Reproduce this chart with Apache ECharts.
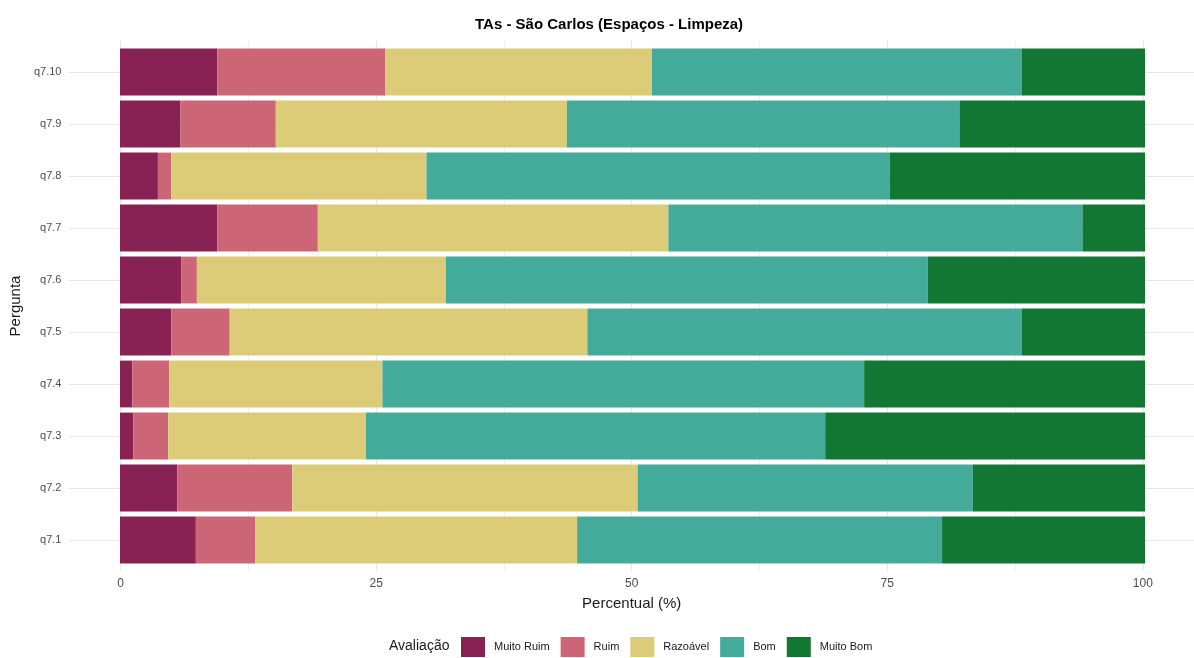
<!DOCTYPE html>
<html>
<head>
<meta charset="utf-8">
<script src="https://cdn.jsdelivr.net/npm/echarts@6/dist/echarts.min.js"></script>
<style>
html,body{margin:0;padding:0;background:#fff;}
#chart{width:1194px;height:658px;}
</style>
</head>
<body>
<div id="chart"></div>
<script>
const categories = ['q7.1','q7.2','q7.3','q7.4','q7.5','q7.6','q7.7','q7.8','q7.9','q7.10'];
const seriesNames = ['Muito Ruim','Ruim','Razoável','Bom','Muito Bom'];
const muitoRuim = [7.4, 5.6, 1.3, 1.2, 5.0, 6.0, 9.5, 3.7, 5.9, 9.5];
const ruim      = [5.8, 11.2, 3.4, 3.6, 5.7, 1.5, 9.8, 1.3, 9.3, 16.4];
const razoavel  = [31.4, 33.7, 19.3, 20.8, 34.9, 24.3, 34.2, 24.9, 28.4, 26.0];
const bom       = [35.6, 32.7, 44.8, 47.0, 42.4, 47.0, 40.4, 45.2, 38.3, 36.1];
const muitoBom  = [19.8, 16.8, 31.2, 27.4, 12.0, 21.2, 6.1, 24.9, 18.1, 12.0];
const xMajorTicks = [0, 25, 50, 75, 100];
const xMinorTicks = [12.5, 37.5, 62.5, 87.5];
const yTickIndex = [0,1,2,3,4,5,6,7,8,9];

const colors = ['#882255','#CC6677','#DDCC77','#44AA99','#117733'];
const values = [muitoRuim, ruim, razoavel, bom, muitoBom];
const FONT = '"Liberation Sans", Arial, sans-serif';

const chart = echarts.init(document.getElementById('chart'), null, {renderer:'canvas'});

const series = seriesNames.map((name, i) => ({
  name: name,
  type: 'bar',
  stack: 'total',
  xAxisIndex: 0,
  yAxisIndex: 0,
  barCategoryGap: '10%',
  itemStyle: {color: colors[i]},
  emphasis: {disabled: true},
  data: values[i]
}));

const option = {
  backgroundColor: '#ffffff',
  animation: false,
  textStyle: {fontFamily: FONT},
  title: {
    text: 'TAs - São Carlos (Espaços - Limpeza)',
    left: 475, top: 17, padding: 0,
    textStyle: {fontFamily: FONT, fontSize: 15, fontWeight: 'bold', color: '#000'}
  },
  legend: {
    data: seriesNames,
    left: 461, top: 637, padding: 0,
    itemWidth: 24, itemHeight: 20, itemGap: 11,
    icon: 'rect',
    textStyle: {fontFamily: FONT, fontSize: 11, color: '#1a1a1a', padding: [0,0,0,4]}
  },
  graphic: [{
    type: 'text', left: 389, top: 639,
    style: {text: 'Avaliação', fontFamily: FONT, fontSize: 14, fill: '#1a1a1a'}
  }],
  grid: [
    {left: 120, right: 49, top: 46, bottom: 92},
    {left: 69, right: -2, top: 40.8, bottom: 86.8}
  ],
  xAxis: [
    {gridIndex: 0, type: 'value', min: 0, max: 100, show: false},
    {gridIndex: 1, type: 'value', min: -5, max: 105,
      axisLine: {show: false}, axisTick: {show: false, customValues: xMajorTicks},
      axisLabel: {customValues: xMajorTicks, margin: 6, fontFamily: FONT, fontSize: 12, color: '#4d4d4d'},
      splitLine: {show: true, lineStyle: {color: '#e6e6e6', width: 1}},
      name: 'Percentual (%)', nameLocation: 'middle', nameGap: 25,
      nameTextStyle: {fontFamily: FONT, fontSize: 15, color: '#1a1a1a'}
    },
    {gridIndex: 1, type: 'value', min: -5, max: 105,
      axisLine: {show: false}, axisTick: {show: false, customValues: xMinorTicks},
      axisLabel: {show: false, customValues: xMinorTicks},
      splitLine: {show: true, lineStyle: {color: '#f0f0f0', width: 1}}
    }
  ],
  yAxis: [
    {gridIndex: 0, type: 'category', data: categories, show: false},
    {gridIndex: 1, type: 'value', min: -0.6, max: 9.6,
      axisLine: {show: false}, axisTick: {show: false, customValues: yTickIndex},
      axisLabel: {customValues: yTickIndex, margin: 8, fontFamily: FONT, fontSize: 11, color: '#4d4d4d',
        formatter: v => categories[Math.round(v)]},
      splitLine: {show: true, lineStyle: {color: '#e6e6e6', width: 1}},
      name: 'Pergunta', nameLocation: 'middle', nameRotate: 90, nameGap: 41,
      nameTextStyle: {fontFamily: FONT, fontSize: 15, color: '#1a1a1a'}
    }
  ],
  series: series
};
chart.setOption(option);
</script>
</body>
</html>
